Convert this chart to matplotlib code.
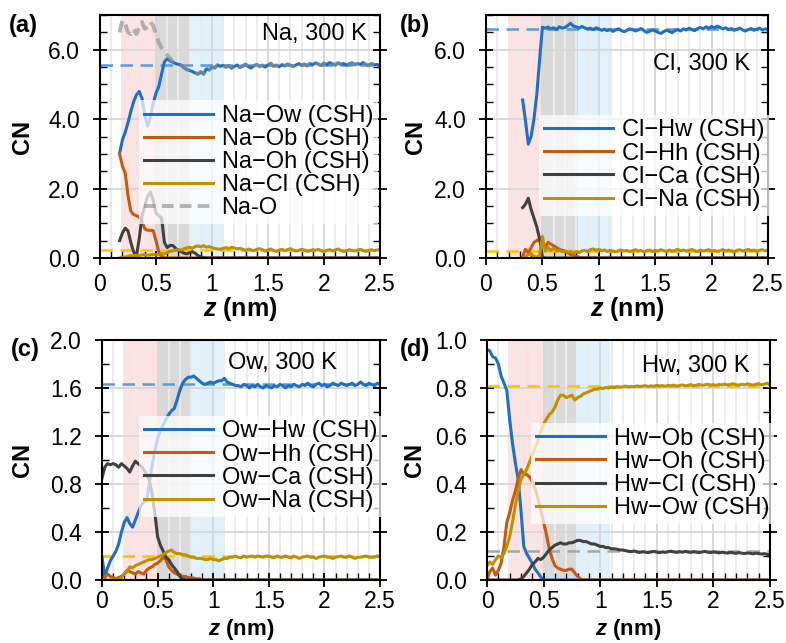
import numpy as np
import matplotlib
matplotlib.use('Agg')
import matplotlib.pyplot as plt
from matplotlib.ticker import MultipleLocator, FormatStrFormatter, FuncFormatter

plt.rcParams['font.family'] = ['Liberation Sans', 'DejaVu Sans']
plt.rcParams['mathtext.fontset'] = 'custom'
plt.rcParams['mathtext.it'] = 'Liberation Sans:italic:bold'
plt.rcParams['mathtext.rm'] = 'Liberation Sans:bold'

STEP = 0.025

# ---------------- panel (a): Na, 300 K ----------------
a_start = 0.175
a_na_ow = [3.02, 3.40, 3.62, 3.90, 4.22, 4.50, 4.70, 4.80, 4.60, 4.10,
           3.80, 4.05, 4.46, 4.75, 4.94, 5.30, 5.65, 5.74, 5.68, 5.64,
           5.60, 5.58, 5.55, 5.48, 5.43, 5.40, 5.37, 5.33, 5.30, 5.36,
           5.30, 5.45, 5.42, 5.50, 5.48, 5.56, 5.52, 5.55,
           5.50, 5.54, 5.47, 5.52, 5.56, 5.49, 5.53, 5.58, 5.51, 5.47,
           5.54, 5.57, 5.52, 5.55, 5.50, 5.56, 5.60, 5.53, 5.55, 5.51,
           5.57, 5.54, 5.58, 5.55, 5.52, 5.56, 5.60, 5.55, 5.58, 5.54,
           5.60, 5.57, 5.62, 5.58, 5.55, 5.61, 5.57, 5.63, 5.59, 5.56,
           5.62, 5.58, 5.60, 5.56, 5.59, 5.62, 5.57, 5.60, 5.58, 5.63,
           5.57, 5.55, 5.60, 5.56, 5.58, 5.52]
a_na_ob = [3.00, 2.65, 2.45, 1.80, 1.35, 1.25, 1.22, 1.18, 1.05, 0.84,
           0.80, 0.80, 0.79, 0.50, 0.18, 0.04, 0.01, 0.0] + [0.0] * 76
a_na_oh = [0.50, 0.72, 0.86, 0.78, 0.45, 0.18, 0.05, 0.55, 1.20, 1.50,
           1.78, 1.90, 1.65, 1.30, 1.22, 1.15, 0.45, 0.30, 0.36, 0.36,
           0.28, 0.22, 0.18, 0.14, 0.12, 0.15, 0.18, 0.14, 0.07, 0.03,
           0.01, 0.0] + [0.0] * 62
a_na_cl = [0.00, 0.02, 0.03, 0.05, 0.07, 0.06, 0.08, 0.07, 0.09, 0.10,
           0.08, 0.09, 0.10, 0.09, 0.11, 0.13, 0.12, 0.16, 0.19, 0.21,
           0.22, 0.24, 0.23, 0.27, 0.29, 0.31, 0.28, 0.33, 0.35, 0.32,
           0.36, 0.31, 0.33, 0.30, 0.27, 0.26, 0.25, 0.28, 0.30, 0.27,
           0.31, 0.29, 0.26, 0.28,
           0.25, 0.22, 0.26, 0.23, 0.21, 0.25, 0.27, 0.24, 0.20, 0.23,
           0.26, 0.22, 0.19, 0.23, 0.25, 0.21, 0.24, 0.27, 0.23, 0.20,
           0.22, 0.25, 0.23, 0.19, 0.21, 0.24, 0.22, 0.25, 0.21, 0.18,
           0.22, 0.24, 0.20, 0.23, 0.26, 0.22, 0.19, 0.21, 0.24, 0.22,
           0.20, 0.23, 0.25, 0.21, 0.19, 0.22, 0.24, 0.21, 0.23, 0.25]
a_na_o = [6.50, 6.85, 6.75, 6.50, 6.45, 6.60, 6.45, 6.65, 6.80, 6.60,
          6.65, 6.80, 6.70, 6.45, 6.20, 6.05, 5.95, 5.85, 5.75, 5.65,
          5.60, 5.58, 5.55, 5.50] + a_na_ow[24:]
a_ref_ow, a_ref_cl = 5.55, 0.22

# ---------------- panel (b): Cl, 300 K ----------------
b_start = 0.325
b_cl_hw = [4.55, 3.95, 3.28, 3.50, 4.00, 4.70, 5.70, 6.65, 6.62, 6.65,
           6.60, 6.63, 6.58, 6.66, 6.62, 6.64, 6.70, 6.76, 6.68, 6.66,
           6.62, 6.67, 6.63, 6.60, 6.62, 6.58, 6.63, 6.60, 6.56, 6.59,
           6.55, 6.58, 6.53, 6.57, 6.60, 6.55, 6.52,
           6.56, 6.60, 6.58, 6.54, 6.57, 6.61, 6.55, 6.50, 6.53, 6.57,
           6.54, 6.50, 6.47, 6.52, 6.56, 6.53, 6.49, 6.55, 6.58, 6.54,
           6.60, 6.57, 6.62, 6.58, 6.55, 6.61, 6.64, 6.60, 6.66, 6.62,
           6.67, 6.63, 6.68, 6.64, 6.60, 6.63, 6.58, 6.61, 6.56, 6.59,
           6.62, 6.57, 6.54, 6.58, 6.61, 6.56, 6.59, 6.62, 6.57, 6.60,
           6.58]
b_cl_hh = [0.05, 0.25, 0.15, 0.30, 0.45, 0.50, 0.55, 0.45, 0.30, 0.45,
           0.40, 0.35, 0.30, 0.25, 0.22, 0.20, 0.15, 0.10, 0.08, 0.05,
           0.02, 0.0] + [0.0] * 66
b_cl_ca = [1.45, 1.55, 1.72, 1.40, 1.15, 0.90, 0.55, 0.03, 0.0] + [0.0] * 79
b_cl_na = [0.0, 0.05, 0.10, 0.12, 0.05, 0.02, 0.08, 0.62, 0.20, 0.30,
           0.22, 0.28, 0.20, 0.22, 0.18, 0.20, 0.17, 0.19, 0.15, 0.18,
           0.16, 0.20, 0.22, 0.19, 0.24, 0.26, 0.22,
           0.25, 0.21, 0.23, 0.19, 0.22, 0.20, 0.18, 0.21, 0.23, 0.20,
           0.22, 0.19, 0.21, 0.24, 0.20, 0.22, 0.18, 0.21, 0.23, 0.19,
           0.22, 0.20, 0.24, 0.21, 0.19, 0.23, 0.20, 0.22, 0.25, 0.21,
           0.23, 0.20, 0.22, 0.25, 0.21, 0.19, 0.23, 0.20, 0.22, 0.24,
           0.20, 0.22, 0.19, 0.21, 0.24, 0.20, 0.23, 0.21, 0.18, 0.22,
           0.24, 0.20, 0.22, 0.25, 0.21, 0.23, 0.20, 0.22, 0.24, 0.21,
           0.22]
b_ref_hw, b_ref_na = 6.60, 0.20

# ---------------- panel (c): Ow, 300 K ----------------
c_start = 0.0
c_ow_hw = [0.19, 0.03, 0.10, 0.16, 0.20, 0.24, 0.30, 0.40, 0.48, 0.52,
           0.47, 0.44, 0.50, 0.56, 0.62, 0.65, 0.66, 0.80, 0.95, 1.08,
           1.18, 1.25, 1.29, 1.34, 1.38, 1.41, 1.43, 1.50, 1.58, 1.64,
           1.67, 1.69, 1.69, 1.70, 1.68, 1.66, 1.64, 1.63, 1.64, 1.65,
           1.64, 1.65, 1.66, 1.66, 1.68, 1.65, 1.64, 1.63, 1.62,
           1.62, 1.61, 1.63, 1.62, 1.60, 1.62, 1.61, 1.63, 1.61, 1.60,
           1.62, 1.61, 1.60, 1.62, 1.61, 1.63, 1.62, 1.60, 1.62, 1.61,
           1.63, 1.62, 1.61, 1.63, 1.62, 1.64, 1.62, 1.61, 1.63, 1.64,
           1.62, 1.63, 1.61, 1.62, 1.64, 1.63, 1.62, 1.64, 1.63, 1.62,
           1.63, 1.64, 1.62, 1.63, 1.65, 1.63, 1.62, 1.64, 1.63, 1.62,
           1.64, 1.63]
c_ow_hh = [0.0, 0.02, 0.05, 0.03, 0.02, 0.01, 0.02, 0.03, 0.05, 0.08,
           0.07, 0.06, 0.05, 0.07, 0.06, 0.05, 0.08, 0.10, 0.11, 0.13,
           0.14, 0.16, 0.19, 0.17, 0.11, 0.08, 0.06, 0.05, 0.04, 0.03,
           0.03, 0.02, 0.02, 0.015, 0.01, 0.01, 0.0] + [0.0] * 64
c_ow_ca = [0.85, 0.94, 0.97, 0.96, 0.97, 0.96, 0.94, 0.97, 0.95, 0.93,
           0.90, 0.95, 0.99, 0.97, 0.95, 0.92, 0.88, 0.83, 0.72, 0.56,
           0.36, 0.29, 0.24, 0.19, 0.17, 0.13, 0.10, 0.07, 0.03, 0.01,
           0.0] + [0.0] * 70
c_ow_na = [0.0, 0.0, 0.0, 0.0, 0.0, 0.0, 0.0, 0.02, 0.05, 0.07,
           0.11, 0.10, 0.12, 0.13, 0.14, 0.15, 0.16, 0.17, 0.17, 0.18,
           0.19, 0.20, 0.21, 0.23, 0.24, 0.25, 0.23, 0.22, 0.22, 0.21,
           0.21, 0.20, 0.19, 0.19, 0.18, 0.18, 0.18, 0.17, 0.17, 0.18,
           0.17, 0.17, 0.16, 0.17, 0.18, 0.18, 0.19,
           0.19, 0.20, 0.19, 0.185, 0.20, 0.19, 0.195, 0.20, 0.19, 0.20,
           0.195, 0.19, 0.20, 0.20, 0.19, 0.185, 0.20, 0.19, 0.19, 0.20,
           0.19, 0.185, 0.20, 0.19, 0.18, 0.19, 0.195, 0.20, 0.19, 0.19,
           0.18, 0.19, 0.195, 0.20, 0.19, 0.19, 0.18, 0.19, 0.195, 0.20,
           0.19, 0.19, 0.20, 0.19, 0.18, 0.19, 0.19, 0.195, 0.20, 0.19,
           0.19, 0.19, 0.20, 0.19]
c_ref_hw, c_ref_na = 1.635, 0.20

# ---------------- panel (d): Hw, 300 K ----------------
d_start = 0.0
d_hw_ob = [0.96, 0.955, 0.93, 0.925, 0.90, 0.85, 0.82, 0.79, 0.67, 0.57,
           0.49, 0.42, 0.29, 0.14, 0.11, 0.09, 0.07, 0.045, 0.03, 0.012,
           0.0] + [0.0] * 80
d_hw_oh = [0.0, 0.035, 0.05, 0.02, 0.04, 0.07, 0.14, 0.24, 0.28, 0.33,
           0.37, 0.42, 0.46, 0.44, 0.44, 0.43, 0.41, 0.38, 0.34, 0.29,
           0.24, 0.19, 0.13, 0.09, 0.06, 0.05, 0.045, 0.04, 0.04, 0.045,
           0.045, 0.03, 0.015, 0.005, 0.0] + [0.0] * 66
d_hw_cl = [0.0, 0.0, 0.0, 0.0, 0.0, 0.0, 0.0, 0.0, 0.0, 0.0,
           0.0, 0.0, 0.005, 0.015, 0.03, 0.045, 0.065, 0.075, 0.09, 0.085,
           0.095, 0.11, 0.125, 0.135, 0.145, 0.15, 0.155, 0.15, 0.15, 0.155,
           0.155, 0.16, 0.165, 0.165, 0.16, 0.16, 0.155, 0.15, 0.15, 0.145,
           0.14, 0.14, 0.135, 0.135, 0.13, 0.13, 0.128, 0.125, 0.125,
           0.122, 0.120, 0.118, 0.121, 0.117, 0.115, 0.118, 0.116, 0.114, 0.117,
           0.119, 0.116, 0.114, 0.117, 0.115, 0.118, 0.120, 0.117, 0.115, 0.118,
           0.116, 0.119, 0.117, 0.115, 0.118, 0.116, 0.114, 0.117, 0.119, 0.116,
           0.114, 0.117, 0.115, 0.113, 0.116, 0.114, 0.112, 0.115, 0.113, 0.111,
           0.114, 0.112, 0.110, 0.113, 0.111, 0.109, 0.112, 0.110, 0.108, 0.110,
           0.107, 0.105]
d_hw_ow = [0.06, 0.075, 0.065, 0.085, 0.10, 0.095, 0.11, 0.14, 0.18, 0.24,
           0.31, 0.37, 0.42, 0.44, 0.46, 0.49, 0.52, 0.55, 0.58, 0.62,
           0.65, 0.67, 0.69, 0.70, 0.72, 0.75, 0.77, 0.77, 0.76, 0.765,
           0.77, 0.75, 0.76, 0.765, 0.775, 0.78, 0.785, 0.79, 0.795, 0.795,
           0.80,
           0.798, 0.802, 0.800, 0.804, 0.801, 0.806, 0.803, 0.805, 0.808, 0.804,
           0.807, 0.805, 0.809, 0.806, 0.808, 0.810, 0.806, 0.809, 0.807, 0.811,
           0.808, 0.810, 0.807, 0.811, 0.809, 0.812, 0.808, 0.810, 0.813, 0.809,
           0.811, 0.814, 0.810, 0.812, 0.815, 0.811, 0.813, 0.816, 0.812, 0.814,
           0.811, 0.815, 0.813, 0.816, 0.812, 0.815, 0.818, 0.814, 0.812, 0.816,
           0.813, 0.817, 0.814, 0.812, 0.815, 0.818, 0.813, 0.816, 0.820, 0.812]
d_ref_ow, d_ref_cl = 0.81, 0.12

# ---------------- styling ----------------
C_BLUE, C_ORANGE, C_DARK, C_GOLD = '#1f70c1', '#c55a11', '#404040', '#bf9000'
R_BLUE, R_GOLD, R_GRAY = '#5b9bd5', '#ffc000', '#a5a5a5'
S_PINK, S_GRAY, S_BLUE = '#fde2e2', '#d9d9d9', '#dff1fa'
FS_TICK = 16.5
FS_LEG = 17
FS_LAB = 18


def zgrid(start, vals):
    return start + STEP * np.arange(len(vals))


def style(ax, ymax, ymaj, ymin, fmt, xpad=5.5, xlab_fs=FS_LAB):
    ax.set_xlim(0, 2.5)
    ax.set_ylim(0, ymax)
    ax.xaxis.set_major_locator(MultipleLocator(0.5))
    ax.xaxis.set_minor_locator(MultipleLocator(0.1))
    ax.yaxis.set_major_locator(MultipleLocator(ymaj))
    ax.yaxis.set_minor_locator(MultipleLocator(ymin))
    ax.xaxis.set_major_formatter(FuncFormatter(lambda v, p: f'{v:g}'))
    ax.yaxis.set_major_formatter(FormatStrFormatter(fmt))
    ax.tick_params(which='major', direction='inout', length=10, width=1.3,
                   left=True, right=True, bottom=True, top=False,
                   labelsize=FS_TICK)
    ax.tick_params(axis='y', which='major', pad=9.5)
    ax.tick_params(axis='x', which='major', pad=xpad)
    ax.tick_params(which='minor', direction='in', length=5, width=1.0,
                   left=True, right=True, bottom=True, top=False)
    ax.grid(which='minor', axis='x', color='#ebebeb', lw=1.3)
    ax.grid(which='major', axis='x', color='#d6d6d6', lw=1.3)
    ax.grid(which='major', axis='y', color='#d6d6d6', lw=1.3)
    for s in ax.spines.values():
        s.set_linewidth(1.5)
    ax.set_ylabel('CN', fontsize=FS_LEG, fontweight='bold')
    ax.set_xlabel(r'$z$ (nm)', fontsize=xlab_fs, fontweight='bold')


def shade(ax, p0, p1, p2, p3):
    ax.axvspan(p0, p1, color=S_PINK, lw=0, zorder=0.5)
    ax.axvspan(p1, p2, color=S_GRAY, lw=0, zorder=0.5)
    ax.axvspan(p2, p3, color=S_BLUE, lw=0, zorder=0.5)


def refline(ax, y, c):
    ax.axhline(y, color=c, lw=1.8, ls=(0, (5, 3)), zorder=1.8)


def legend(ax, x, y):
    leg = ax.legend(loc='upper left', bbox_to_anchor=(x, y), borderaxespad=0,
                    frameon=True, framealpha=0.72, edgecolor='none',
                    fancybox=False, borderpad=0.2, handlelength=2.95,
                    handletextpad=0.35, labelspacing=0.05, fontsize=FS_LEG)
    leg.set_zorder(5)
    return leg


fig = plt.figure(figsize=(7.86, 6.43), dpi=100)
W, H = 786, 643


def add_axes(l, r, t, b):
    return fig.add_axes([l / W, 1 - b / H, (r - l) / W, (b - t) / H])


ax_a = add_axes(100, 380, 15, 258)
ax_b = add_axes(486, 768, 15, 258)
ax_c = add_axes(102, 380, 340, 580)
ax_d = add_axes(487, 770, 340, 580)

LW = 2.2

# (a)
shade(ax_a, 0.185, 0.5, 0.8, 1.11)
refline(ax_a, a_ref_ow, R_BLUE)
refline(ax_a, a_ref_cl, R_GOLD)
ax_a.plot(zgrid(a_start, a_na_ow), a_na_ow, color=C_BLUE, lw=LW, label='Na\u2212Ow (CSH)')
ax_a.plot(zgrid(a_start, a_na_ob), a_na_ob, color=C_ORANGE, lw=LW, label='Na\u2212Ob (CSH)')
ax_a.plot(zgrid(a_start, a_na_oh), a_na_oh, color=C_DARK, lw=LW, label='Na\u2212Oh (CSH)')
ax_a.plot(zgrid(a_start, a_na_cl), a_na_cl, color=C_GOLD, lw=LW, label='Na\u2212Cl (CSH)')
ax_a.plot(zgrid(a_start, a_na_o), a_na_o, color='#8f8f8f', lw=2.8, alpha=0.65,
          ls=(0, (3, 1.6)), label='Na-O')
style(ax_a, 7, 2, 0.5, '%.1f')
legend(ax_a, 0.139, 0.65)
ax_a.text(0.954, 0.967, 'Na, 300 K', transform=ax_a.transAxes, ha='right', va='top', fontsize=FS_LEG)

# (b)
shade(ax_b, 0.195, 0.49, 0.82, 1.12)
refline(ax_b, b_ref_hw, R_BLUE)
refline(ax_b, b_ref_na, R_GOLD)
ax_b.plot(zgrid(b_start, b_cl_hw), b_cl_hw, color=C_BLUE, lw=LW, label='Cl\u2212Hw (CSH)')
ax_b.plot(zgrid(b_start, b_cl_hh), b_cl_hh, color=C_ORANGE, lw=LW, label='Cl\u2212Hh (CSH)')
ax_b.plot(zgrid(b_start, b_cl_ca), b_cl_ca, color=C_DARK, lw=LW, label='Cl\u2212Ca (CSH)')
ax_b.plot(zgrid(b_start, b_cl_na), b_cl_na, color=C_GOLD, lw=LW, label='Cl\u2212Na (CSH)')
style(ax_b, 7, 2, 0.5, '%.1f')
legend(ax_b, 0.188, 0.59)
ax_b.text(0.936, 0.844, 'Cl, 300 K', transform=ax_b.transAxes, ha='right', va='top', fontsize=FS_LEG)

# (c)
shade(ax_c, 0.207, 0.506, 0.81, 1.097)
refline(ax_c, c_ref_hw, R_BLUE)
refline(ax_c, c_ref_na, R_GOLD)
ax_c.plot(zgrid(c_start, c_ow_hw), c_ow_hw, color=C_BLUE, lw=LW, label='Ow\u2212Hw (CSH)')
ax_c.plot(zgrid(c_start, c_ow_hh), c_ow_hh, color=C_ORANGE, lw=LW, label='Ow\u2212Hh (CSH)')
ax_c.plot(zgrid(c_start, c_ow_ca), c_ow_ca, color=C_DARK, lw=LW, label='Ow\u2212Ca (CSH)')
ax_c.plot(zgrid(c_start, c_ow_na), c_ow_na, color=C_GOLD, lw=LW, label='Ow\u2212Na (CSH)')
style(ax_c, 2.0, 0.4, 0.2, '%.1f', xpad=2.0, xlab_fs=16)
legend(ax_c, 0.133, 0.685)
ax_c.text(0.845, 0.95, 'Ow, 300 K', transform=ax_c.transAxes, ha='right', va='top', fontsize=FS_LEG)

# (d)
shade(ax_d, 0.186, 0.495, 0.79, 1.09)
refline(ax_d, d_ref_ow, R_GOLD)
refline(ax_d, d_ref_cl, R_GRAY)
ax_d.plot(zgrid(d_start, d_hw_ob), d_hw_ob, color=C_BLUE, lw=LW, label='Hw\u2212Ob (CSH)')
ax_d.plot(zgrid(d_start, d_hw_oh), d_hw_oh, color=C_ORANGE, lw=LW, label='Hw\u2212Oh (CSH)')
ax_d.plot(zgrid(d_start, d_hw_cl), d_hw_cl, color=C_DARK, lw=LW, label='Hw\u2212Cl (CSH)')
ax_d.plot(zgrid(d_start, d_hw_ow), d_hw_ow, color=C_GOLD, lw=LW, label='Hw\u2212Ow (CSH)')
style(ax_d, 1.0, 0.2, 0.1, '%.1f', xpad=2.0, xlab_fs=16)
legend(ax_d, 0.155, 0.655)
ax_d.text(0.929, 0.9375, 'Hw, 300 K', transform=ax_d.transAxes, ha='right', va='top', fontsize=FS_LEG)

# label positions
for ax, l, r, t, b, cnx, xl in [(ax_a, 100, 380, 15, 258, 34, 37), (ax_b, 486, 768, 15, 258, 427, 37),
                                 (ax_c, 102, 380, 340, 580, 34, 36.5), (ax_d, 487, 770, 340, 580, 426, 36.5)]:
    ax.yaxis.set_label_coords((cnx - l) / (r - l), 0.5)
    ax.xaxis.set_label_coords(0.5, -xl / (b - t))

for lab, x, y in [('(a)', 9, 14), ('(b)', 400, 14), ('(c)', 11, 338), ('(d)', 400, 338)]:
    fig.text(x / W, 1 - y / H, lab, fontsize=17, fontweight='bold', ha='left', va='top')

fig.savefig('out.png', dpi=100)
